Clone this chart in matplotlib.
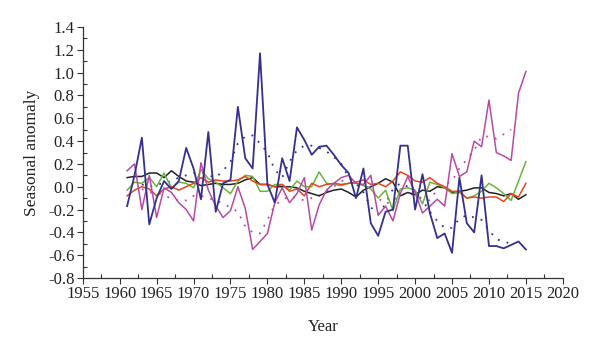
import numpy as np
import matplotlib
matplotlib.use("Agg")
import matplotlib.pyplot as plt
from matplotlib.ticker import MultipleLocator

years = np.arange(1961, 2016)
trend_years = np.arange(1963, 2014)

# seasonal anomaly series
navy = [-0.17, 0.10, 0.43, -0.33, -0.10, 0.05, -0.02, 0.05, 0.34, 0.16,
        -0.11, 0.48, -0.22, 0.03, 0.06, 0.70, 0.25, 0.16, 1.17, 0.02,
        -0.14, 0.25, 0.05, 0.52, 0.41, 0.28, 0.35, 0.36, 0.28, 0.19,
        0.12, -0.10, 0.16, -0.32, -0.43, -0.22, -0.20, 0.36, 0.36, -0.20,
        0.11, -0.23, -0.45, -0.41, -0.58, 0.08, -0.32, -0.40, 0.10, -0.52,
        -0.52, -0.54, -0.51, -0.48, -0.55]
magenta = [0.14, 0.20, -0.20, 0.10, -0.27, -0.01, -0.05, -0.14, -0.20, -0.30,
           0.21, -0.03, -0.17, -0.27, -0.21, 0.00, -0.19, -0.55, -0.48, -0.41,
           -0.14, -0.01, -0.14, -0.06, 0.08, -0.38, -0.16, -0.03, 0.03, 0.08,
           0.10, 0.03, 0.02, 0.10, -0.25, -0.17, -0.30, -0.06, 0.09, -0.05,
           -0.23, -0.17, -0.11, -0.17, 0.29, 0.09, 0.13, 0.40, 0.35, 0.76,
           0.30, 0.27, 0.23, 0.82, 1.01]
green = [-0.03, 0.04, 0.03, 0.08, 0.00, 0.12, -0.01, 0.04, 0.03, -0.01,
         0.15, 0.07, 0.04, -0.01, -0.06, 0.05, 0.10, 0.09, -0.04, -0.04,
         0.02, 0.02, -0.03, 0.05, 0.00, 0.00, 0.13, 0.03, 0.02, 0.01,
         0.03, 0.03, 0.01, -0.02, -0.10, -0.03, -0.21, -0.02, -0.01, -0.03,
         -0.15, 0.04, 0.02, -0.01, -0.06, -0.05, -0.10, -0.08, -0.04, 0.03,
         -0.01, -0.06, -0.12, 0.05, 0.22]
red = [-0.08, -0.03, 0.00, -0.02, -0.08, -0.02, 0.00, -0.03, 0.00, 0.03,
       0.08, 0.04, 0.06, 0.05, 0.05, 0.06, 0.09, 0.05, 0.02, 0.02,
       0.00, 0.02, -0.04, -0.02, -0.08, 0.03, 0.00, 0.02, 0.03, 0.02,
       0.03, 0.04, 0.06, 0.02, 0.03, 0.00, 0.05, 0.13, 0.10, 0.05,
       0.04, 0.08, 0.03, 0.00, -0.04, -0.04, -0.10, -0.09, -0.10, -0.09,
       -0.09, -0.13, -0.06, -0.09, 0.03]
black = [0.08, 0.09, 0.09, 0.12, 0.12, 0.08, 0.14, 0.09, 0.05, 0.04,
         0.01, 0.02, 0.03, 0.02, 0.02, 0.03, 0.06, 0.08, 0.02, 0.02,
         0.00, 0.00, 0.00, -0.01, -0.04, -0.06, -0.08, -0.05, -0.03, -0.02,
         -0.05, -0.09, -0.03, 0.00, 0.03, 0.07, 0.04, -0.08, -0.05, -0.07,
         -0.03, -0.04, 0.00, -0.01, -0.05, -0.04, -0.03, -0.01, -0.01, -0.05,
         -0.06, -0.08, -0.06, -0.11, -0.07]

# dotted trend curves (1963-2013)
navy_trend = [0.02, 0.00, 0.02, 0.03, 0.05, 0.08, 0.10, 0.12, 0.13, 0.10,
              0.08, 0.14, 0.22, 0.38, 0.44, 0.45, 0.38, 0.30, 0.15, 0.08,
              0.22, 0.32, 0.36, 0.36, 0.34, 0.31, 0.26, 0.20, 0.08, 0.03,
              -0.05, -0.18, -0.24, -0.15, -0.02, 0.03, 0.00, -0.06, -0.12, -0.22,
              -0.30, -0.36, -0.36, -0.28, -0.25, -0.27, -0.29, -0.38, -0.46, -0.48,
              -0.50]
magenta_trend = [-0.02, -0.05, -0.05, -0.08, -0.10, -0.12, -0.12, -0.08, -0.08, -0.10,
                 -0.12, -0.15, -0.18, -0.22, -0.35, -0.40, -0.41, -0.29, -0.16, -0.12,
                 -0.08, -0.10, -0.12, -0.10, -0.08, -0.04, 0.00, 0.05, 0.06, 0.05,
                 0.02, -0.02, -0.10, -0.15, -0.12, -0.08, -0.05, -0.08, -0.10, -0.12,
                 -0.02, 0.02, 0.05, 0.16, 0.24, 0.32, 0.44, 0.44, 0.42, 0.46,
                 0.50]

c_navy = "#34308f"
c_mag = "#b84aa6"
c_green = "#6cb33e"
c_red = "#e8441b"
c_black = "#222222"

plt.rcParams["font.family"] = ["Liberation Serif", "DejaVu Serif"]

fig = plt.figure(figsize=(6, 3.51), dpi=100)
ax = fig.add_axes([0.138, 0.208, 0.8, 0.715])

ax.plot(trend_years, navy_trend, color=c_navy, lw=1.3, ls=(0, (1, 4)))
ax.plot(trend_years, magenta_trend, color=c_mag, lw=1.3, ls=(0, (1, 4)))

ax.plot(years, black, color=c_black, lw=1.1)
ax.plot(years, green, color=c_green, lw=1.1)
ax.plot(years, red, color=c_red, lw=1.1)
ax.plot(years, magenta, color=c_mag, lw=1.1)
ax.plot(years, navy, color=c_navy, lw=1.3)

ax.set_xlim(1955, 2020)
ax.set_ylim(-0.8, 1.4)
ax.xaxis.set_major_locator(MultipleLocator(5))
ax.xaxis.set_minor_locator(MultipleLocator(2.5))
ax.yaxis.set_major_locator(MultipleLocator(0.2))
ax.yaxis.set_minor_locator(MultipleLocator(0.1))
ax.yaxis.set_major_formatter(matplotlib.ticker.FormatStrFormatter("%.1f"))

for s in ["top", "right"]:
    ax.spines[s].set_visible(False)
for s in ["left", "bottom"]:
    ax.spines[s].set_color("#333333")
    ax.spines[s].set_linewidth(0.9)

ax.tick_params(which="major", direction="out", length=4, width=0.8,
               labelsize=12, colors="#333333", pad=2)
ax.tick_params(which="minor", direction="in", length=3, width=0.8, colors="#333333")
ax.tick_params(axis="x", labelcolor="#222222")
ax.tick_params(axis="y", labelcolor="#222222")

ax.set_xlabel("Year", fontsize=12, color="#222222", labelpad=12)
ax.set_ylabel("Seasonal anomaly", fontsize=12.5, color="#222222", labelpad=6)

fig.savefig("out.png", dpi=100)
